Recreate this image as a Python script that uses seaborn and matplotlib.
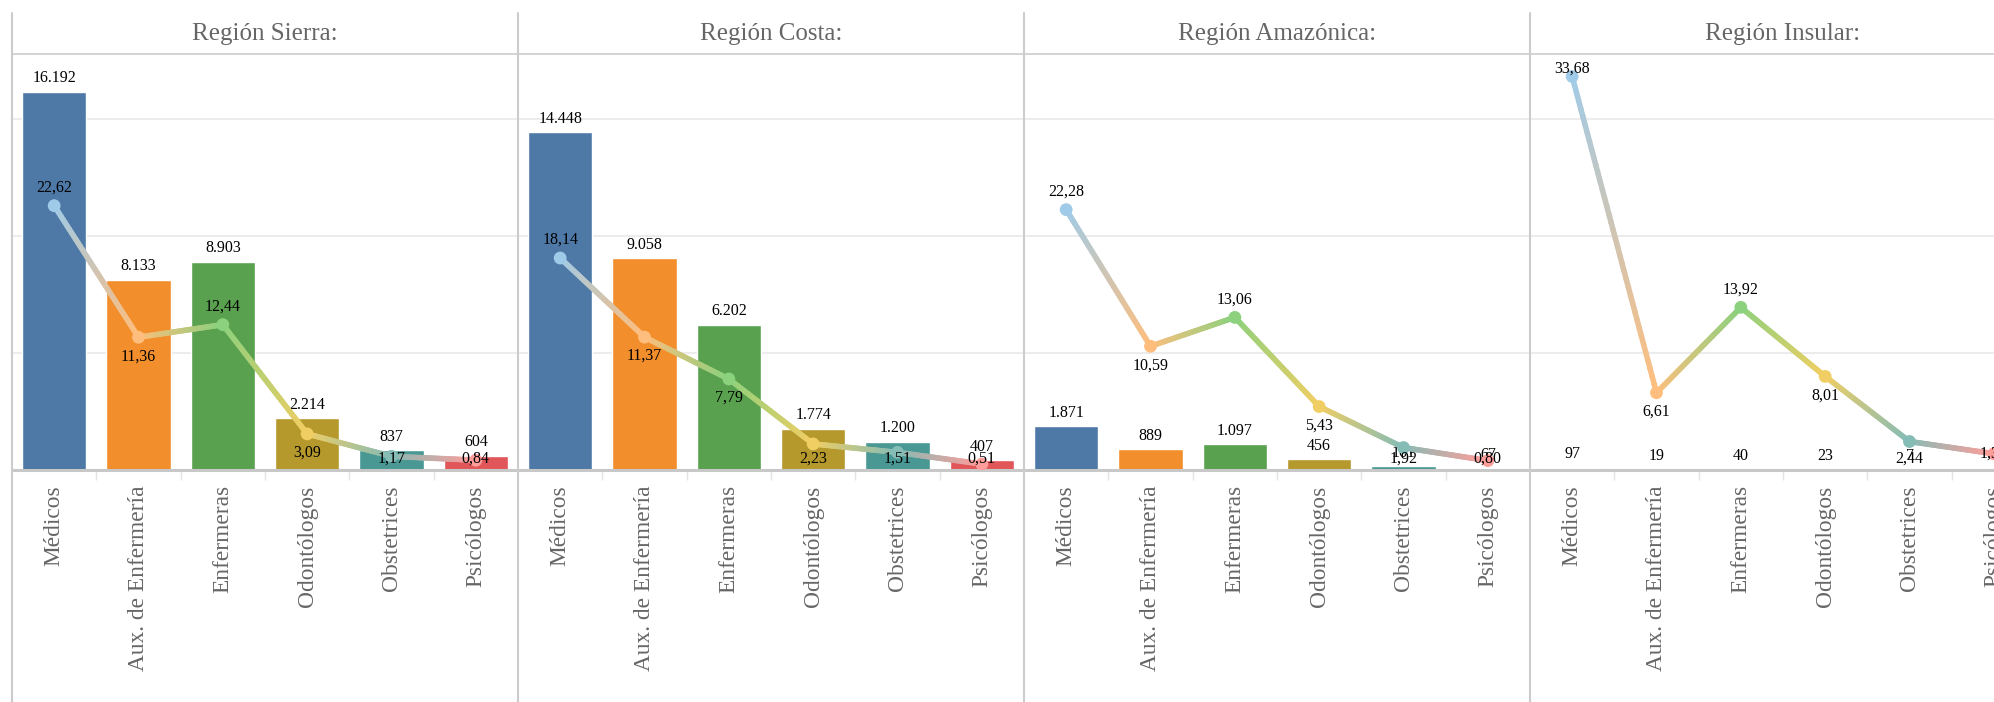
import numpy as np
import pandas as pd
import matplotlib
matplotlib.use("Agg")
import matplotlib.pyplot as plt
import seaborn as sns
from matplotlib.collections import LineCollection
from matplotlib.colors import to_rgb
from matplotlib.lines import Line2D

# ---------------- data ----------------
categories = ["Médicos", "Aux. de Enfermería", "Enfermeras", "Odontólogos", "Obstetrices", "Psicólogos"]
region_names = ["Región Sierra:", "Región Costa:", "Región Amazónica:", "Región Insular:"]

sierra_counts = [16192, 8133, 8903, 2214, 837, 604]
sierra_rates = [22.62, 11.36, 12.44, 3.09, 1.17, 0.84]

costa_counts = [14448, 9058, 6202, 1774, 1200, 407]
costa_rates = [18.14, 11.37, 7.79, 2.23, 1.51, 0.51]

amazonia_counts = [1871, 889, 1097, 456, 161, 67]
amazonia_rates = [22.28, 10.59, 13.06, 5.43, 1.92, 0.80]

insular_counts = [97, 19, 40, 23, 7, 4]
insular_rates = [33.68, 6.61, 13.92, 8.01, 2.44, 1.39]

# ---------------- styles ----------------
bar_colors = ["#4e79a7", "#f28e2b", "#59a14f", "#b6992d", "#499894", "#e15759"]
line_colors = ["#a0cbe8", "#ffbe7d", "#8cd17d", "#f1ce63", "#86bcb6", "#ff9d9a"]

sns.set_theme(style="white")
plt.rcParams["font.family"] = ["Liberation Serif", "DejaVu Serif"]

W, H = 1994, 702
fig = plt.figure(figsize=(W / 100, H / 100), dpi=100)
fig.patch.set_facecolor("white")

panel_x0 = 12
panel_w = 506
base_y = 470
top_y = 54
frame_top = 13
count_max = 17800
rate_max = 35.6
plot_h = base_y - top_y
px = rate_max / plot_h  # one pixel in rate units

def fmt_count(n):
    return f"{n:,}".replace(",", ".")

def fmt_rate(r):
    return f"{r:.2f}".replace(".", ",")

datasets = [
    (sierra_counts, sierra_rates),
    (costa_counts, costa_rates),
    (amazonia_counts, amazonia_rates),
    (insular_counts, insular_rates),
]

for i, (name, (counts, rates)) in enumerate(zip(region_names, datasets)):
    left = panel_x0 + i * panel_w
    ax = fig.add_axes([left / W, (H - base_y) / H, panel_w / W, plot_h / H])
    df = pd.DataFrame({"cat": categories, "n": counts, "rate": rates})
    sns.barplot(data=df, x="cat", y="n", hue="cat", order=categories,
                palette=dict(zip(categories, bar_colors)), width=0.76,
                saturation=1, legend=False, ax=ax)
    ax2 = ax.twinx()

    ax.set_xlim(-0.5, 5.5)
    ax.set_ylim(0, count_max)
    ax.set_xlabel("")
    ax.set_ylabel("")
    for s in ax.spines.values():
        s.set_visible(False)
    ax.set_axisbelow(True)
    ax.set_yticks([5000, 10000, 15000])
    ax.yaxis.grid(True, color="#ececec", lw=1.5)
    ax.xaxis.grid(False)
    ax.tick_params(axis="y", left=False, right=False, labelleft=False, labelright=False)
    ax.set_xticks(range(len(categories)))
    ax.set_xticklabels(categories, rotation=90, fontsize=16.8, color="#666666", va="top")
    ax.tick_params(axis="x", which="major", length=0, pad=11)
    ax.set_xticks(np.arange(0.5, len(categories) - 1, 1), minor=True)
    ax.tick_params(axis="x", which="minor", length=7.5, color="#e4e4e4", width=1,
                   direction="out", bottom=True)
    ax.axhline(0, color="#c8c8c8", lw=2.2, clip_on=False, zorder=5)

    # count labels
    for j, n in enumerate(counts):
        ax.annotate(fmt_count(n), (j, n), xytext=(0, 4), textcoords="offset points",
                    ha="center", va="bottom", fontsize=11.5, color="black")

    # rate line on secondary axis
    ax2.set_ylim(0, rate_max)
    ax2.set_xlim(-0.5, 5.5)
    for s in ax2.spines.values():
        s.set_visible(False)
    ax2.tick_params(axis="y", left=False, right=False, labelleft=False, labelright=False)
    ax2.grid(False)

    xs = np.arange(len(categories))
    segs, cols = [], []
    t = np.linspace(0, 1, 40)
    for j in range(len(xs) - 1):
        c0, c1 = np.array(to_rgb(line_colors[j])), np.array(to_rgb(line_colors[j + 1]))
        xx = xs[j] + t * (xs[j + 1] - xs[j])
        yy = rates[j] + t * (rates[j + 1] - rates[j])
        for k in range(len(t) - 1):
            segs.append([(xx[k], yy[k]), (xx[k + 1], yy[k + 1])])
            cols.append(c0 + (c1 - c0) * (t[k] + t[k + 1]) / 2)
    lc = LineCollection(segs, colors=cols, linewidths=4.0, capstyle="round", zorder=3)
    ax2.add_collection(lc)
    ax2.scatter(xs, rates, c=line_colors, s=85, zorder=4, linewidths=0)

    for j, r in enumerate(rates):
        prev = rates[j - 1] if j > 0 else -np.inf
        nxt = rates[j + 1] if j < len(rates) - 1 else -np.inf
        if j == len(rates) - 1:
            ly = r
        elif r >= prev and r >= nxt:
            ly = r + 18 * px
        else:
            ly = r - 19 * px
        ly = min(max(ly, 11 * px), rate_max - 15 * px)
        ax2.text(j, ly, fmt_rate(r), ha="center", va="center", fontsize=11.5,
                 color="black", zorder=6, clip_on=False)

    fig.text((left + panel_w / 2) / W, (H - 34) / H, name, ha="center", va="center",
             fontsize=18, color="#666666")

# frame lines
for k in range(4):
    x = (panel_x0 + k * panel_w) / W
    fig.add_artist(Line2D([x, x], [0, (H - frame_top) / H], color="#cccccc", lw=1.5))
fig.add_artist(Line2D([panel_x0 / W, 1], [(H - top_y) / H] * 2, color="#cccccc", lw=1.2))

fig.savefig("out.png", dpi=100)
